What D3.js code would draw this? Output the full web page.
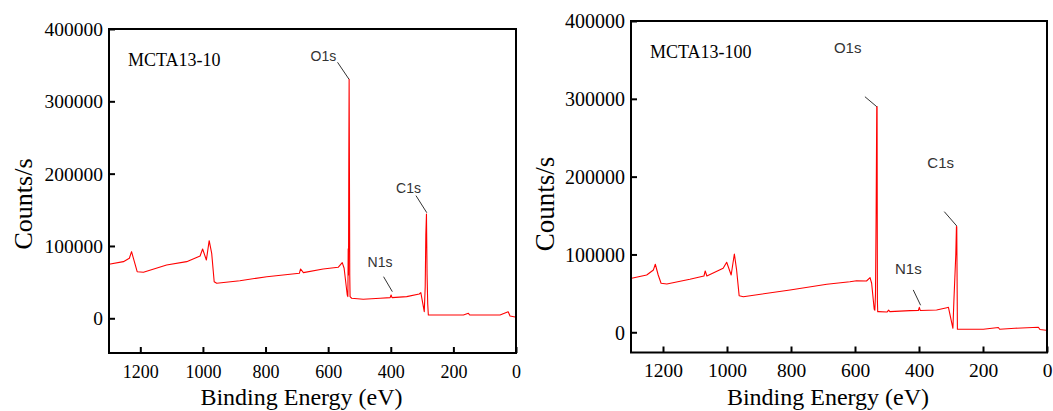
<!DOCTYPE html>
<html>
<head>
<meta charset="utf-8">
<script src="https://cdn.jsdelivr.net/npm/d3@7"></script>
<style>
  html, body { margin: 0; padding: 0; background: #fff; }
  svg { display: block; }
</style>
</head>
<body>
<svg id="chart" width="1053" height="411"></svg>
<script>
// spectra: [binding energy (eV), counts/s]
const spectrum10 = [
  [1300, 74700], [1254, 78300], [1235, 83000], [1228, 92100], [1219, 78300],
  [1210, 64400], [1190, 63600], [1116, 73700], [1052, 78300], [1009, 86200],
  [1001, 95800], [989, 80600], [980, 107300], [972, 89900], [964, 50600],
  [956, 48400], [882, 52000], [796, 57500], [692, 62200], [688, 68200],
  [679, 63100], [616, 68200], [568, 70500], [555, 76900], [549, 69200],
  [539, 32200], [537, 30000], [536, 96000], [535, 60000], [534, 222000],
  [533, 330500], [532, 200000], [531, 60000], [530, 29900], [525, 27700],
  [488, 26300], [434, 27700], [402, 28600], [399, 32200], [396, 28600],
  [349, 29900], [309, 33600], [304, 35400], [293, 9100], [290, 43700],
  [288, 115000], [286, 144200], [284, 60000], [282, 20000], [280, 4600],
  [168, 4600], [152, 6900], [148, 4600], [51, 4600], [25, 9100], [19, 3200], [3, 1800]
];
const spectrum100 = [
  [1298, 69400], [1251, 73600], [1230, 80100], [1224, 87400], [1215, 73600],
  [1206, 63000], [1188, 62100], [1116, 68100], [1072, 72300], [1068, 78800],
  [1063, 72300], [1012, 82200], [1001, 90000], [987, 73600], [977, 100600],
  [970, 80100], [962, 47000], [949, 45700], [803, 54400], [688, 61700],
  [616, 65000], [595, 66300], [564, 65900], [553, 70200], [548, 63000],
  [540, 29600], [538, 28300], [536, 48000], [534, 150000], [532, 290000],
  [531, 290000], [530, 40000], [529, 26500], [527, 26500], [500, 26000],
  [495, 28500], [491, 26500], [428, 27800], [402, 28000], [399, 32100],
  [396, 28000], [345, 28700], [313, 31600], [308, 32100], [294, 5100],
  [291, 40000], [285, 100000], [283, 135700], [282, 135700], [280, 3900],
  [199, 3900], [152, 6100], [148, 3900], [100, 5100], [27, 6400], [22, 3500], [3, 2600]
];

const xTicks = [1200, 1000, 800, 600, 400, 200, 0];
const yTicks = [0, 100000, 200000, 300000, 400000];

const sampleNames = ["MCTA13-10", "MCTA13-100"];

// peak annotations in data units: text anchor, leader start, leader end
const peaks10 = [
  { text: "O1s", at: [656, 356300], from: [570, 354000], to: [533.4, 330500] },
  { text: "C1s", at: [383, 172900], from: [319.5, 169600], to: [285, 146000] },
  { text: "N1s", at: [474, 71400], from: [423, 57500], to: [395, 36800] }
];
const peaks100 = [
  { text: "O1s", at: [666, 358500], from: [569, 302700], to: [532, 289900] },
  { text: "C1s", at: [374, 211500], from: [321, 155000], to: [282, 136600] },
  { text: "N1s", at: [475, 74900], from: [418, 54400], to: [395, 34700] }
];

const panels = [
  { name: sampleNames[0], data: spectrum10, peaks: peaks10,
    x0: 109, x1: 516, y0: 29, y1: 353, yMin: -48000,
    yTitleX: 32, yTitleSize: 26, xTickSize: 18, yTickSize: 19.5, peakSize: 14 },
  { name: sampleNames[1], data: spectrum100, peaks: peaks100,
    x0: 631, x1: 1047, y0: 21, y1: 352.5, yMin: -26000,
    yTitleX: 554, yTitleSize: 27, xTickSize: 19.5, yTickSize: 20, peakSize: 15 }
];

const svg = d3.select("#chart");
const serif = "'Liberation Serif', 'Times New Roman', serif";
const sans = "'Liberation Sans', Arial, sans-serif";

panels.forEach(p => {
  const x = d3.scaleLinear().domain([1300, 0]).range([p.x0, p.x1]);
  const y = d3.scaleLinear().domain([p.yMin, 400000]).range([p.y1, p.y0]);
  const g = svg.append("g");

  // spectrum
  g.append("path")
    .datum(p.data)
    .attr("fill", "none")
    .attr("stroke", "#ff0000")
    .attr("stroke-width", 1.1)
    .attr("stroke-linejoin", "round")
    .attr("d", d3.line().x(d => x(d[0])).y(d => y(d[1])));

  // axes with inward ticks
  const xAxis = g.append("g")
    .attr("transform", `translate(0,${p.y1})`)
    .call(d3.axisBottom(x).tickValues(xTicks).tickSize(-6).tickFormat(d3.format("d")));
  const yAxis = g.append("g")
    .attr("transform", `translate(${p.x0},0)`)
    .call(d3.axisLeft(y).tickValues(yTicks).tickSize(-6).tickFormat(d3.format("d")));

  [xAxis, yAxis].forEach(a => {
    a.select(".domain").remove();
    a.selectAll(".tick line").attr("stroke", "#000").attr("stroke-width", 2);
    a.selectAll(".tick text")
      .attr("fill", "#000")
      .attr("font-family", serif);
  });
  xAxis.selectAll(".tick text")
    .attr("font-size", p.xTickSize)
    .attr("y", 24.5)
    .attr("dy", null);
  yAxis.selectAll(".tick text")
    .attr("font-size", p.yTickSize)
    .attr("x", -6)
    .attr("dy", "0.34em");

  // frame
  g.append("rect")
    .attr("x", p.x0).attr("y", p.y0)
    .attr("width", p.x1 - p.x0).attr("height", p.y1 - p.y0)
    .attr("fill", "none")
    .attr("stroke", "#000")
    .attr("stroke-width", 2);

  // sample name
  g.append("text")
    .attr("x", p.x0 + 19)
    .attr("y", p.y0 + 37)
    .attr("font-family", serif)
    .attr("font-size", 18)
    .attr("fill", "#000")
    .text(p.name);

  // peak labels and leaders
  p.peaks.forEach(pk => {
    g.append("line")
      .attr("x1", x(pk.from[0])).attr("y1", y(pk.from[1]))
      .attr("x2", x(pk.to[0])).attr("y2", y(pk.to[1]))
      .attr("stroke", "#333")
      .attr("stroke-width", 1);
    g.append("text")
      .attr("x", x(pk.at[0]))
      .attr("y", y(pk.at[1]))
      .attr("font-family", sans)
      .attr("font-size", p.peakSize)
      .attr("fill", "#333")
      .text(pk.text);
  });

  // axis titles
  g.append("text")
    .attr("x", (p.x0 + p.x1) / 2 - 11)
    .attr("y", 405)
    .attr("text-anchor", "middle")
    .attr("font-family", serif)
    .attr("font-size", 24)
    .attr("fill", "#000")
    .text("Binding Energy (eV)");

  g.append("text")
    .attr("transform", `translate(${p.yTitleX},204) rotate(-90)`)
    .attr("text-anchor", "middle")
    .attr("font-family", serif)
    .attr("font-size", p.yTitleSize)
    .attr("fill", "#000")
    .text("Counts/s");
});
</script>
</body>
</html>
